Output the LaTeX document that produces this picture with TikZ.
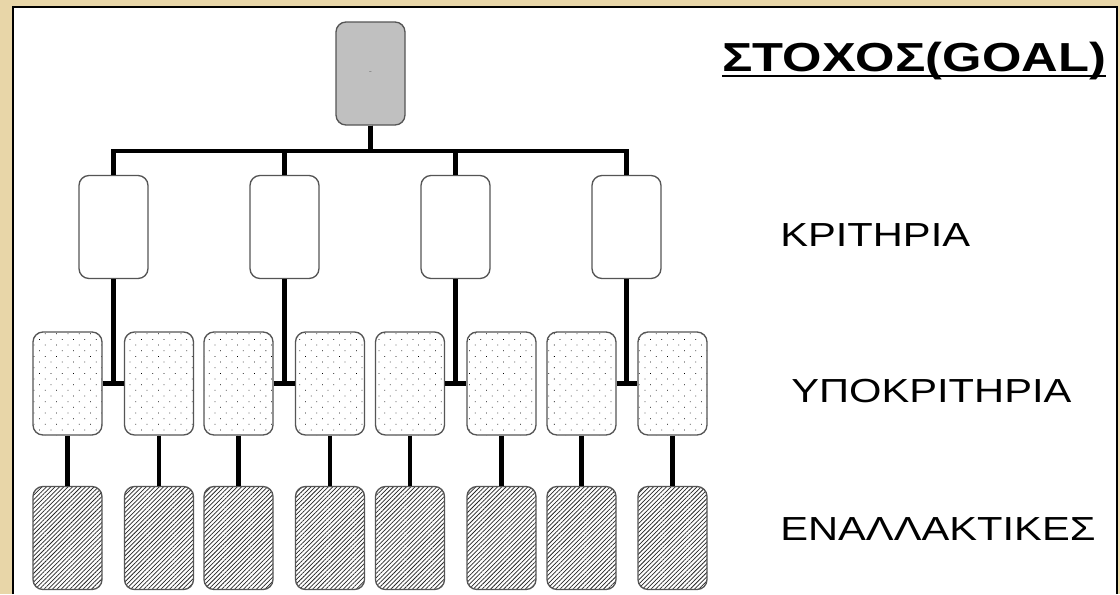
\documentclass[tikz,border=0pt]{standalone}
\usepackage{fontspec}
\setmainfont{Liberation Sans}
\usetikzlibrary{patterns.meta}
\definecolor{parch}{RGB}{232,214,168}
\definecolor{goalgray}{RGB}{192,192,192}
\definecolor{boxline}{RGB}{85,85,85}
\begin{document}
\begin{tikzpicture}[x=0.75pt,y=-0.75pt,
  box/.style={draw=boxline, line width=1pt, rounded corners=7.5pt,
    minimum width=51.75pt, minimum height=77.25pt, inner sep=0pt},
  goalbox/.style={box, fill=goalgray},
  critbox/.style={box, fill=white},
  subbox/.style={box, fill=white, pattern={Dots[distance=6pt, angle=45, radius=0.4pt]}, pattern color=black},
  altbox/.style={box, fill=white, pattern={Lines[angle=45, distance=2.3pt, line width=0.55pt]}, pattern color=black!85},
  conn/.style={line width=3.3pt, black, line join=miter},
  lbl/.style={anchor=base west, inner sep=0pt, font=\fontsize{25}{30}\selectfont},
]
\useasboundingbox (0,0) rectangle (1120,594);
\fill[parch] (0,0) rectangle (1120,594);
\fill[white] (13,7) rectangle (1117,594);
\draw[line width=1.5pt, black] (13,594) -- (13,7) -- (1117,7) -- (1117,594);

% goal
\node[goalbox] (goal) at (370.5,73.5) {\scriptsize\color{gray}-};

% criteria
\node[critbox] (c1) at (113.5,227) {};
\node[critbox] (c2) at (284.5,227) {};
\node[critbox] (c3) at (455.5,227) {};
\node[critbox] (c4) at (626.5,227) {};

% subcriteria
\node[subbox] (s1) at (67.5,383.5) {};
\node[subbox] (s2) at (159,383.5) {};
\node[subbox] (s3) at (238.5,383.5) {};
\node[subbox] (s4) at (330,383.5) {};
\node[subbox] (s5) at (410,383.5) {};
\node[subbox] (s6) at (501.5,383.5) {};
\node[subbox] (s7) at (581.5,383.5) {};
\node[subbox] (s8) at (672.5,383.5) {};

% alternatives
\node[altbox] (a1) at (67.5,538) {};
\node[altbox] (a2) at (159,538) {};
\node[altbox] (a3) at (238.5,538) {};
\node[altbox] (a4) at (330,538) {};
\node[altbox] (a5) at (410,538) {};
\node[altbox] (a6) at (501.5,538) {};
\node[altbox] (a7) at (581.5,538) {};
\node[altbox] (a8) at (672.5,538) {};

% connectors goal -> criteria
\coordinate (bus) at (0,151);
\foreach \c in {c1,c2,c3,c4}{
  \draw[conn] (goal.south) -- (goal.south |- bus) -| (\c.north);
}
% criteria -> subcriteria
\foreach \c/\l/\r in {c1/s1/s2, c2/s3/s4, c3/s5/s6, c4/s7/s8}{
  \draw[conn] (\c.south) -- (\c.south |- \l.east);
  \draw[conn] (\l.east) -- (\r.west);
}
% subcriteria -> alternatives
\foreach \i in {1,...,8}{
  \draw[conn] (s\i.south) -- (a\i.north);
}

% labels
\node[lbl, font=\fontsize{30.4}{36}\selectfont\bfseries] (tgoal) at (722,71) {\scalebox{1.25}[1]{ΣΤΟΧΟΣ(GOAL)}};
\draw[line width=1.6pt] ([yshift=-4pt]tgoal.base west) -- ([yshift=-4pt]tgoal.base east);
\node[lbl] (tcrit) at (780,246) {\scalebox{1.25}[1]{ΚΡΙΤΗΡΙΑ}};
\node[lbl] (tsub) at (791,402) {\scalebox{1.25}[1]{ΥΠΟΚΡΙΤΗΡΙΑ}};
\node[lbl] (talt) at (780,540) {\scalebox{1.25}[1]{ΕΝΑΛΛΑΚΤΙΚΕΣ}};
\end{tikzpicture}
\end{document}
